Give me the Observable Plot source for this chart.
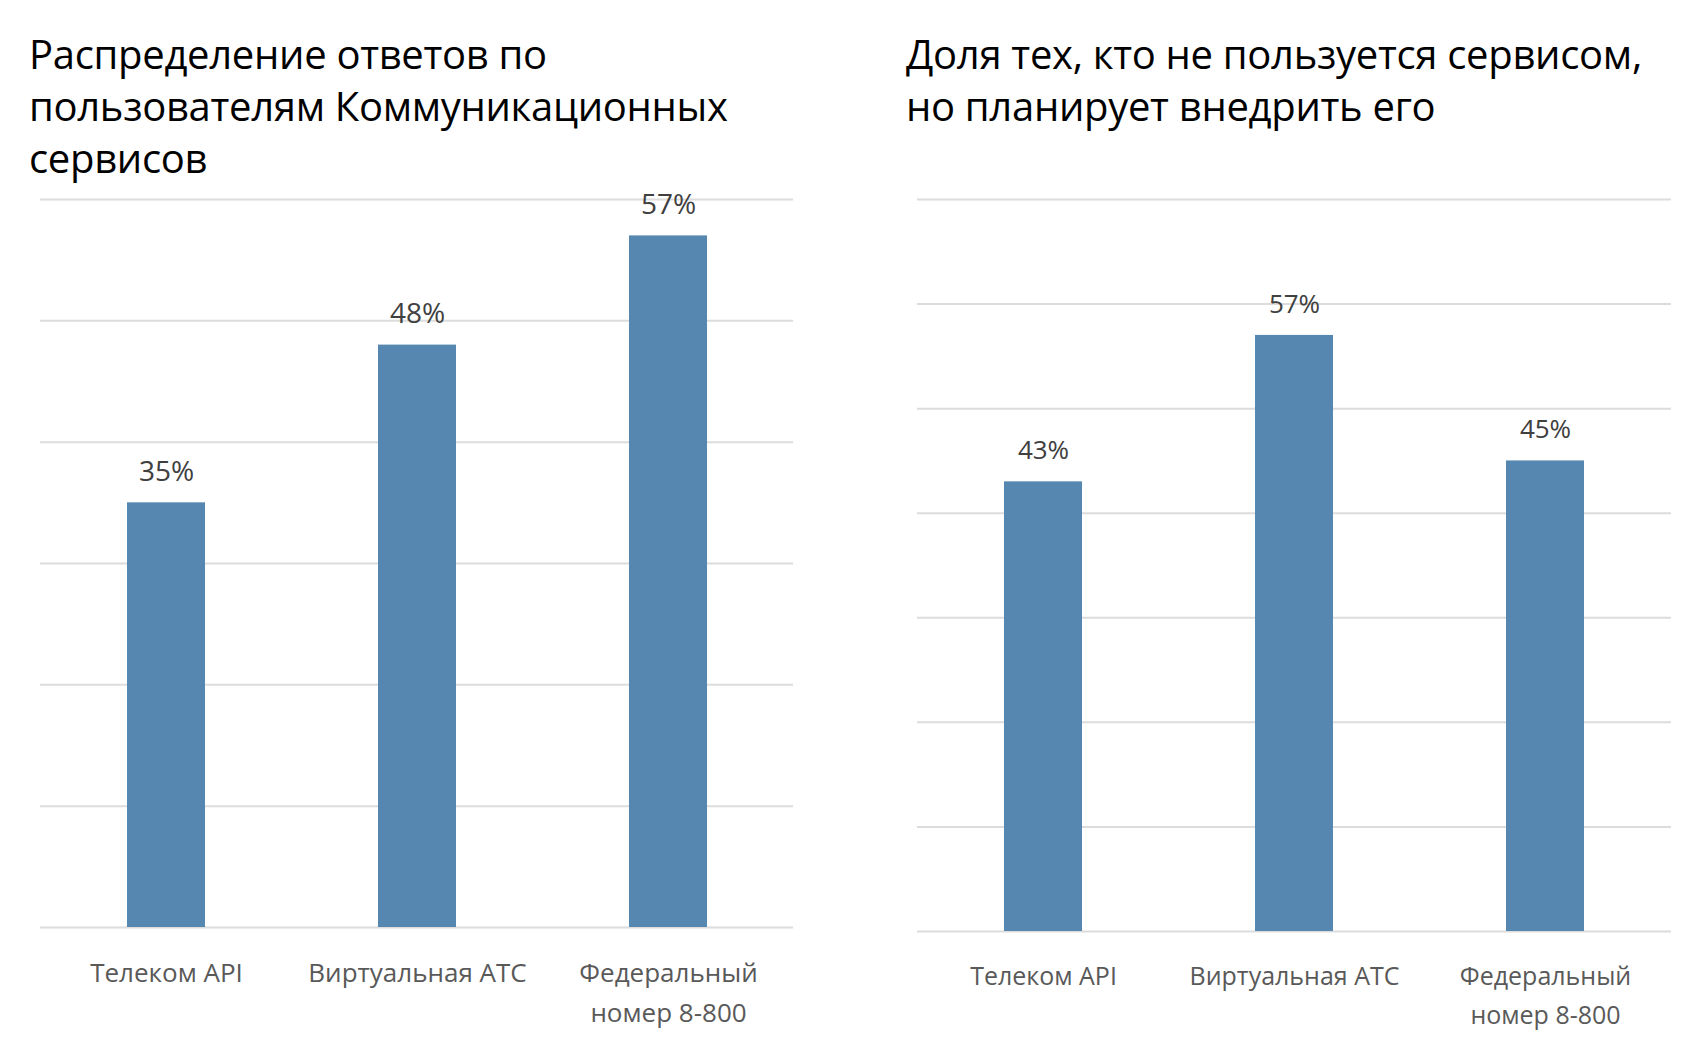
<!DOCTYPE html>
<html>
<head>
<meta charset="utf-8">
<script src="https://cdn.jsdelivr.net/npm/d3@7"></script>
<script src="https://cdn.jsdelivr.net/npm/@observablehq/plot@0.6"></script>
<style>
  html, body { margin: 0; padding: 0; background: #fff; }
  #root { position: relative; width: 1688px; height: 1050px; overflow: hidden; font-family: "Open Sans", sans-serif; }
  .title { position: absolute; font-size: 40px; line-height: 52px; color: #000; white-space: nowrap; letter-spacing: -0.3px; }
  .chart { position: absolute; top: 0; }
</style>
</head>
<body>
<div id="root">
  <div class="title" style="left:29px; top:28px;">Распределение ответов по<br>пользователям Коммуникационных<br>сервисов</div>
  <div class="title" style="left:906px; top:28px;">Доля тех, кто не пользуется сервисом,<br>но планирует внедрить его</div>
  <div class="chart" id="c1" style="left:0px;"></div>
  <div class="chart" id="c2" style="left:844px;"></div>
</div>
<script>
const categories = ["Телеком API", "Виртуальная АТС", "Федеральный\nномер 8-800"];
const usersShare = [35, 48, 57];
const planShare = [43, 57, 45];
const leftTicks = [0, 10, 20, 30, 40, 50, 60];
const rightTicks = [0, 10, 20, 30, 40, 50, 60, 70];

const barColor = "#5587b0";
const gridColor = "#dcdcdc";

function makeChart(values, ticks, opts) {
  const data = categories.map((c, i) => ({cat: c, v: values[i]}));
  return Plot.plot({
    width: 844,
    height: 1050,
    marginLeft: opts.ml,
    marginRight: opts.mr,
    marginTop: 199,
    marginBottom: opts.mb,
    style: {fontFamily: "'Open Sans', sans-serif", background: "transparent"},
    x: {domain: categories, paddingInner: 0.69, paddingOuter: 0.345, axis: null},
    y: {domain: [0, ticks[ticks.length - 1]], axis: null},
    marks: [
      Plot.ruleY(ticks, {stroke: gridColor, strokeWidth: 2}),
      Plot.barY(data, {x: "cat", y: "v", fill: barColor}),
      Plot.text(data, {x: "cat", y: "v", text: d => d.v + "%", lineAnchor: "middle", dy: -31, fontSize: opts.vfs, fill: "#404040"}),
      Plot.text(data, {x: "cat", text: "cat", frameAnchor: "bottom", lineAnchor: "top", dy: opts.tdy, fontSize: opts.tfs, lineHeight: 1.55, fill: "#595959"})
    ]
  });
}

document.getElementById("c1").appendChild(makeChart(usersShare, leftTicks, {ml: 40, mr: 51, mb: 123, vfs: 28, tfs: 26, tdy: 26}));
document.getElementById("c2").appendChild(makeChart(planShare, rightTicks, {ml: 73, mr: 17, mb: 119, vfs: 26, tfs: 25, tdy: 26}));
</script>
</body>
</html>
